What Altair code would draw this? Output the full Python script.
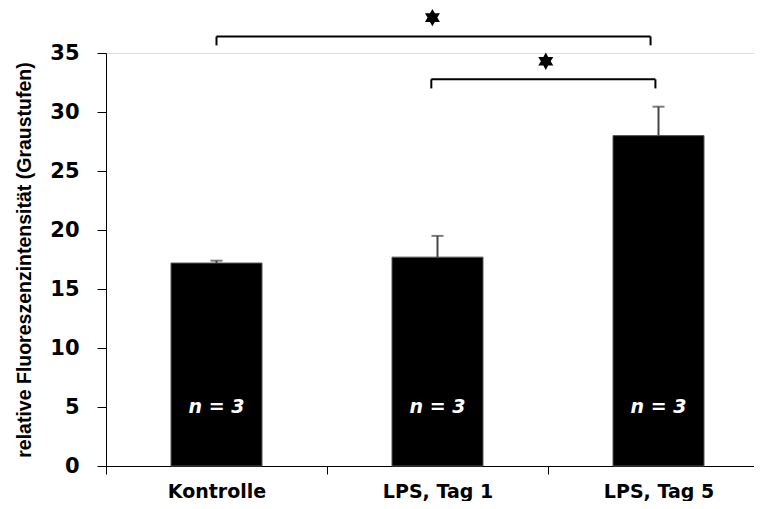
import altair as alt
import pandas as pd

categories = ["Kontrolle", "LPS, Tag 1", "LPS, Tag 5"]
means = [17.2, 17.7, 28.0]
errors = [0.2, 1.8, 2.45]
n_labels = ["n = 3", "n = 3", "n = 3"]
n_label_y = [5, 5, 5]

# significance brackets in (category index, value) units
bracket_x1 = [0.5, 1.472]
bracket_x2 = [2.464, 2.486]
bracket_y = [36.4, 32.77]
bracket_drop = [35.65, 32.0]
star_x = [1.477, 1.99]
star_y = [38.0, 34.3]

df = pd.DataFrame({
    "cat": categories,
    "mean": means,
    "upper": [m + e for m, e in zip(means, errors)],
    "label": n_labels,
    "ly": n_label_y,
})

hb = pd.DataFrame({"x1": bracket_x1, "x2": bracket_x2, "y": bracket_y})
drops = pd.DataFrame({
    "x": bracket_x1 + bracket_x2,
    "y": bracket_y + bracket_y,
    "y2": bracket_drop + bracket_drop,
})
stars = pd.DataFrame({"x": star_x, "y": star_y})

FONT = "Liberation Sans"
WFONT = "DejaVu Sans"
RANGE_W = 663
HEXAGRAM = ("M0,-1L0.28,-0.5L0.866,-0.5L0.56,0L0.866,0.5L0.28,0.5L0,1"
            "L-0.28,0.5L-0.866,0.5L-0.56,0L-0.866,-0.5L-0.28,-0.5Z")

xscale = alt.Scale(domain=categories, range=[0, RANGE_W], paddingInner=0, paddingOuter=0)
yscale = alt.Scale(domain=[0, 35], nice=False, zero=True)

x_enc = alt.X("cat:N", scale=xscale, sort=categories,
              axis=alt.Axis(title=None, labelAngle=0, tickBand="extent",
                            labelFont=WFONT, labelFontSize=19, labelFontWeight="bold",
                            labelColor="black", labelPadding=8, tickSize=8,
                            tickColor="black", domainColor="black", labelLimit=300))
y_enc = alt.Y("mean:Q", scale=yscale,
              axis=alt.Axis(title="relative Fluoreszenzintensität (Graustufen)",
                            values=[0, 5, 10, 15, 20, 25, 30, 35],
                            titleFont=FONT, titleFontSize=19.5, titleFontWeight="bold",
                            titleColor="black", titlePadding=15,
                            labelFont=WFONT, labelFontSize=21, labelFontWeight="bold",
                            labelColor="black", labelPadding=18, tickSize=9,
                            tickColor="black", domainColor="black", grid=False))

bars = alt.Chart(df).mark_bar(color="black", size=91, stroke="#555555", strokeWidth=1).encode(
    x=x_enc, y=y_enc)

err_rule = alt.Chart(df).mark_rule(color="#444444", strokeWidth=2).encode(
    x=alt.X("cat:N", scale=xscale, sort=categories),
    y=alt.Y("mean:Q", scale=yscale), y2="upper:Q")

err_cap = alt.Chart(df).mark_tick(color="#444444", size=12, thickness=2).encode(
    x=alt.X("cat:N", scale=xscale, sort=categories),
    y=alt.Y("upper:Q", scale=yscale))

ntext = alt.Chart(df).mark_text(color="white", font=WFONT, fontSize=19, fontWeight="bold",
                                fontStyle="italic", baseline="middle").encode(
    x=alt.X("cat:N", scale=xscale, sort=categories),
    y=alt.Y("ly:Q", scale=yscale), text="label:N")

base = alt.layer(bars, err_rule, err_cap, ntext)

qx = alt.Scale(domain=[0, 3], range=[0, RANGE_W], nice=False, zero=False)

hlines = alt.Chart(hb).mark_rule(color="black", strokeWidth=2).encode(
    x=alt.X("x1:Q", scale=qx, axis=None), x2="x2:Q",
    y=alt.Y("y:Q", scale=yscale))
vlines = alt.Chart(drops).mark_rule(color="black", strokeWidth=2).encode(
    x=alt.X("x:Q", scale=qx, axis=None),
    y=alt.Y("y:Q", scale=yscale), y2="y2:Q")
starmarks = alt.Chart(stars).mark_point(shape=HEXAGRAM, size=300, filled=True,
                                        color="black", opacity=1).encode(
    x=alt.X("x:Q", scale=qx, axis=None),
    y=alt.Y("y:Q", scale=yscale))

annot = alt.layer(hlines, vlines, starmarks)

chart = alt.layer(base, annot).resolve_scale(x="independent").properties(
    width=648, height=413,
    autosize=alt.AutoSizeParams(type="none"),
    padding={"left": 98, "top": 45, "right": 0, "bottom": 35},
).configure_view(stroke=None, clip=False).configure(background="white")

chart.save("out.html", embed_options={"renderer": "svg", "actions": False})
